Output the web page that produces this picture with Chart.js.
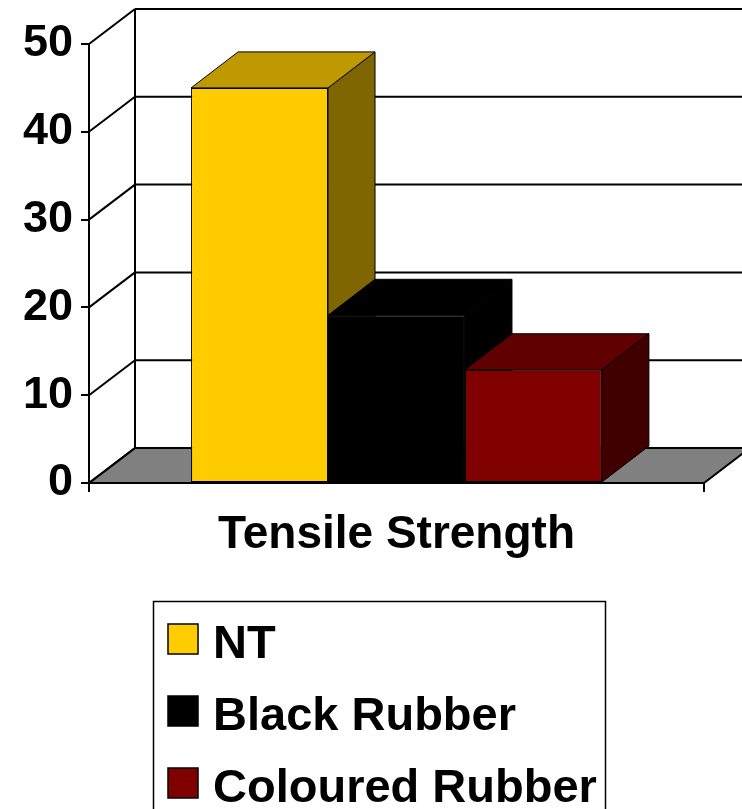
<!DOCTYPE html>
<html>
<head>
<meta charset="utf-8">
<script src="https://cdn.jsdelivr.net/npm/chart.js@4.4.1/dist/chart.umd.min.js"></script>
<style>
  html, body { margin: 0; padding: 0; background: #ffffff; }
  #wrap { width: 742px; height: 809px; overflow: hidden; }
</style>
</head>
<body>
<div id="wrap"><canvas id="c" width="742" height="809"></canvas></div>
<script>
// ---- data ----
const categories = ['Tensile Strength'];
const seriesNames = ['NT', 'Black Rubber', 'Coloured Rubber'];
const ntValues = [45];
const blackRubberValues = [19.1];
const colouredRubberValues = [12.9];
const yTickValues = [0, 10, 20, 30, 40, 50];

const FONT = '"Liberation Sans", Arial, Helvetica, sans-serif';

// face colours: front, top, side
const faceColours = [
  ['#FFCC00', '#BF9900', '#806600'],
  ['#000000', '#000000', '#000000'],
  ['#800000', '#600000', '#400000']
];

const WALL_DX = 46, WALL_DY = -35;
const BAR_DX = 47, BAR_DY = -36;

function poly(ctx, pts, fill, stroke, lw) {
  ctx.beginPath();
  ctx.moveTo(pts[0][0], pts[0][1]);
  for (let i = 1; i < pts.length; i++) ctx.lineTo(pts[i][0], pts[i][1]);
  ctx.closePath();
  if (fill) { ctx.fillStyle = fill; ctx.fill(); }
  if (stroke) { ctx.strokeStyle = stroke; ctx.lineWidth = lw; ctx.stroke(); }
}

const threeD = {
  id: 'threeD',
  beforeDatasetsDraw(chart) {
    const ctx = chart.ctx;
    const ys = chart.scales.y;
    const xs = chart.scales.x;
    const L = xs.left, R = xs.right;
    const y0 = ys.getPixelForValue(0);
    const yTop = ys.getPixelForValue(yTickValues[yTickValues.length - 1]);
    ctx.save();
    ctx.lineJoin = 'miter';
    // floor
    poly(ctx, [[L, y0], [L + WALL_DX, y0 + WALL_DY], [R + WALL_DX, y0 + WALL_DY], [R, y0]], '#808080', '#000000', 2);
    // back wall grid lines and left wall diagonals
    ctx.strokeStyle = '#000000';
    ctx.lineWidth = 2;
    yTickValues.forEach(v => {
      const py = ys.getPixelForValue(v);
      ctx.beginPath();
      ctx.moveTo(L + WALL_DX, py + WALL_DY);
      ctx.lineTo(R + WALL_DX + 10, py + WALL_DY);
      ctx.stroke();
      ctx.beginPath();
      ctx.moveTo(L, py);
      ctx.lineTo(L + WALL_DX, py + WALL_DY);
      ctx.stroke();
    });
    // left wall back edge
    ctx.beginPath();
    ctx.moveTo(L + WALL_DX, yTop + WALL_DY);
    ctx.lineTo(L + WALL_DX, y0 + WALL_DY);
    ctx.stroke();

    // bar side and top faces, left to right
    for (let i = 0; i < chart.data.datasets.length; i++) {
      const meta = chart.getDatasetMeta(i);
      meta.data.forEach(el => {
        const p = el.getProps(['x', 'y', 'base', 'width'], true);
        const l = p.x - p.width / 2, r = p.x + p.width / 2;
        const t = p.y, b = p.base;
        const col = faceColours[i];
        poly(ctx, [[r, t], [r + BAR_DX, t + BAR_DY], [r + BAR_DX, b + BAR_DY], [r, b]], col[2], '#000000', 1);
        poly(ctx, [[l, t], [l + BAR_DX, t + BAR_DY], [r + BAR_DX, t + BAR_DY], [r, t]], col[1], '#000000', 1);
      });
    }
    ctx.restore();
  }
};

const boxLegend = {
  id: 'boxLegend',
  afterDraw(chart) {
    const ctx = chart.ctx;
    ctx.save();
    ctx.strokeStyle = '#000000';
    ctx.lineWidth = 1.5;
    ctx.strokeRect(153.5, 601.5, 452, 260);
    ctx.font = 'bold 47px ' + FONT;
    ctx.textBaseline = 'alphabetic';
    ctx.textAlign = 'left';
    chart.data.datasets.forEach((ds, i) => {
      const base = 658 + i * 72;
      ctx.fillStyle = ds.backgroundColor;
      ctx.fillRect(168, base - 34, 30, 30);
      ctx.strokeStyle = '#000000';
      ctx.lineWidth = 1.5;
      ctx.strokeRect(168, base - 34, 30, 30);
      ctx.fillStyle = '#000000';
      ctx.fillText(ds.label, 213, base);
    });
    ctx.restore();
  }
};

const valueSets = [ntValues, blackRubberValues, colouredRubberValues];

new Chart(document.getElementById('c'), {
  type: 'bar',
  data: {
    labels: categories,
    datasets: seriesNames.map((name, i) => ({
      label: name,
      data: valueSets[i],
      backgroundColor: faceColours[i][0],
      borderColor: '#000000',
      borderWidth: 1,
      borderSkipped: false
    }))
  },
  options: {
    responsive: false,
    animation: false,
    events: [],
    layout: { padding: { top: 44, right: 38, left: 0, bottom: 0 } },
    datasets: { bar: { categoryPercentage: 0.668, barPercentage: 1.0 } },
    plugins: { legend: { display: false }, tooltip: { enabled: false } },
    scales: {
      x: {
        offset: true,
        afterFit(scale) { scale.height = 326; },
        ticks: { display: false },
        grid: { offset: true, drawOnChartArea: false, drawTicks: true, tickLength: 9, color: '#000000', lineWidth: 2 },
        border: { display: true, color: '#000000', width: 2 },
        title: {
          display: true,
          text: categories[0],
          color: '#000000',
          font: { family: FONT, size: 46, weight: 'bold' },
          padding: { top: 0, bottom: 246 }
        }
      },
      y: {
        min: 0,
        max: 50,
        afterFit(scale) { scale.width = 89; },
        afterBuildTicks(scale) { scale.ticks = yTickValues.map(v => ({ value: v })); },
        ticks: {
          color: '#000000',
          padding: 8,
          font: { family: FONT, size: 45, weight: 'bold' }
        },
        grid: { drawOnChartArea: false, drawTicks: true, tickLength: 8, color: '#000000', lineWidth: 2 },
        border: { display: true, color: '#000000', width: 2 }
      }
    }
  },
  plugins: [threeD, boxLegend]
});
</script>
</body>
</html>
